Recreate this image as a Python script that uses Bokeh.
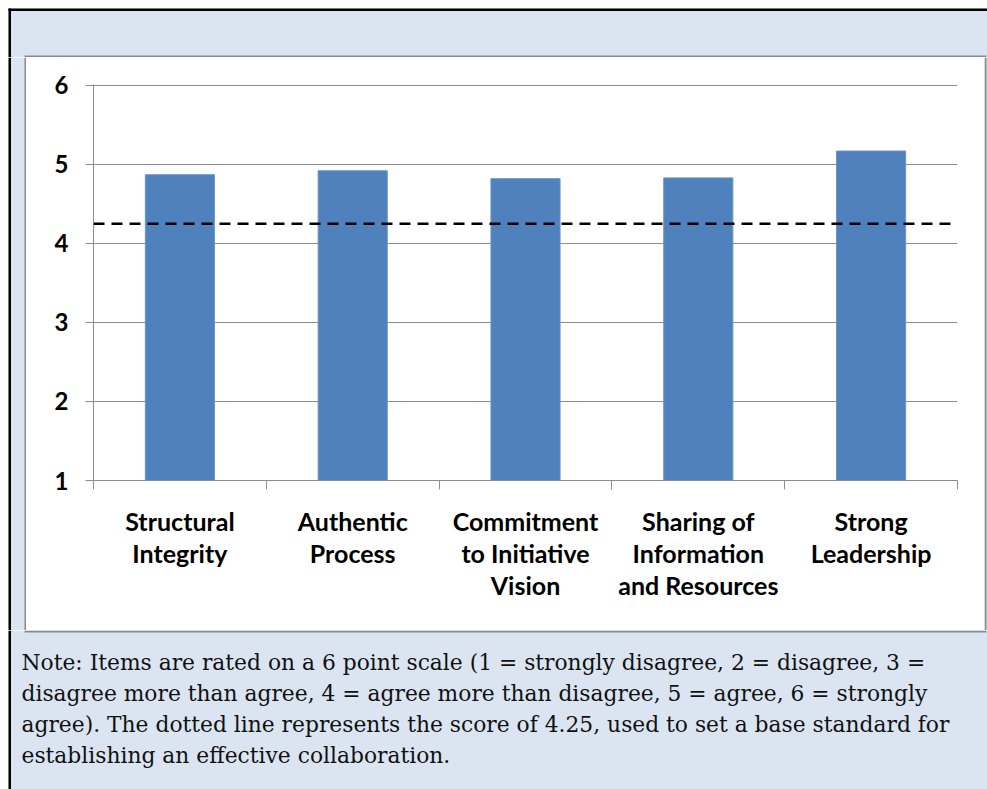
from bokeh.plotting import figure
from bokeh.layouts import column, row
from bokeh.models import FixedTicker, Label, Range1d, Span
from bokeh.embed import file_html
from bokeh.resources import INLINE

# --- data -------------------------------------------------------------
categories = [
    ["Structural", "Integrity"],
    ["Authentic", "Process"],
    ["Commitment", "to Initiative", "Vision"],
    ["Sharing of", "Information", "and Resources"],
    ["Strong", "Leadership"],
]
scores = [4.87, 4.92, 4.82, 4.83, 5.17]
baseline_score = 4.25
y_ticks = [1, 2, 3, 4, 5, 6]
note_lines = [
    "Note: Items are rated on a 6 point scale (1 = strongly disagree, 2 = disagree, 3 =",
    "disagree more than agree, 4 = agree more than disagree, 5 = agree, 6 = strongly",
    "agree).  The dotted line represents the score of 4.25, used to set a base standard for",
    "establishing an effective collaboration.",
]

# --- page geometry (pixels, origin top-left) ----------------------------
W, H = 987, 789
BOX_L, BOX_R, BOX_T, BOX_B = 26, 984, 57, 630      # white chart panel
F_LEFT, F_RIGHT, F_TOP, F_BOTTOM = 93, 957, 84, 480  # plotting frame

BAR_COLOR = "#4f81bd"
GRID_COLOR = "#8c8c8c"
PANEL_BG = "#dbe5f1"
EDGE_GRAY = "#8a8a8a"
SANS = "Lato"
SERIF = "DejaVu Serif"


def strip(x0, x1, y0, y1):
    """A bare figure whose data space is the page's pixel space."""
    f = figure(width=x1 - x0, height=y1 - y0,
               x_range=Range1d(x0, x1), y_range=Range1d(y1, y0),
               output_backend="svg", toolbar_location=None,
               x_axis_type=None, y_axis_type=None, min_border=0,
               outline_line_color=None, frame_align=False,
               background_fill_color="white", border_fill_color="white")
    return f


def paint(f, x0, x1, y0, y1, color):
    f.quad(left=[x0], right=[x1], top=[y0], bottom=[y1],
           fill_color=color, line_color=None)


# frame pieces around the chart panel
top = strip(0, W, 0, BOX_T)
paint(top, 8, W, 8, BOX_T, PANEL_BG)
paint(top, 8, W, 8, 10.5, "black")
paint(top, 8, 10.5, 8, BOX_T, "black")
paint(top, BOX_L - 2, BOX_R + 2, BOX_T - 2, BOX_T, EDGE_GRAY)

left = strip(0, BOX_L, BOX_T, BOX_B)
paint(left, 8, BOX_L, BOX_T, BOX_B, PANEL_BG)
paint(left, 8, 10.5, BOX_T, BOX_B, "black")
paint(left, BOX_L - 2, BOX_L, BOX_T, BOX_B, EDGE_GRAY)

right = strip(BOX_R, W, BOX_T, BOX_B)
paint(right, BOX_R, W, BOX_T, BOX_B, PANEL_BG)
paint(right, BOX_R, BOX_R + 2, BOX_T, BOX_B, EDGE_GRAY)

note = strip(0, W, BOX_B, H)
paint(note, 8, W, BOX_B, H, PANEL_BG)
paint(note, 8, 10.5, BOX_B, H, "black")
paint(note, BOX_L - 2, BOX_R + 2, BOX_B, BOX_B + 2, EDGE_GRAY)

NOTE_Y0, NOTE_STEP = 662, 31
for j, txt in enumerate(note_lines):
    note.add_layout(Label(x=21, y=NOTE_Y0 + j * NOTE_STEP, text=txt,
                          text_align="left", text_baseline="alphabetic",
                          text_font=SERIF, text_font_size="21.8px",
                          text_color="#111111"))

# --- the bar chart ----------------------------------------------------
n = len(categories)
centers = [i + 0.5 for i in range(n)]
y_top = y_ticks[-1] + 0.012

p = figure(
    width=BOX_R - BOX_L, height=BOX_B - BOX_T,
    x_range=Range1d(0, n), y_range=Range1d(y_ticks[0], y_top),
    output_backend="svg", toolbar_location=None,
    min_border_left=F_LEFT - BOX_L, min_border_right=BOX_R - F_RIGHT,
    min_border_top=F_TOP - BOX_T, min_border_bottom=BOX_B - F_BOTTOM,
    border_fill_color="white", background_fill_color="white",
    outline_line_color=None, frame_align=False,
)

p.vbar(x=centers, top=scores, bottom=y_ticks[0], width=0.4,
       fill_color=BAR_COLOR, line_color="#6a93c6", line_width=1)

p.add_layout(Span(location=baseline_score, dimension="width",
                  line_color="black", line_width=2.5, line_dash="11 7"))

p.xgrid.visible = False
p.ygrid.ticker = FixedTicker(ticks=y_ticks)
p.ygrid.grid_line_color = GRID_COLOR
p.ygrid.grid_line_width = 1

ya = p.yaxis[0]
ya.ticker = FixedTicker(ticks=y_ticks)
ya.axis_line_color = GRID_COLOR
ya.major_tick_line_color = GRID_COLOR
ya.major_tick_out = 8
ya.major_tick_in = 0
ya.minor_tick_line_color = None
ya.major_label_text_font = SANS
ya.major_label_text_font_style = "bold"
ya.major_label_text_font_size = "24px"
ya.major_label_text_color = "black"
ya.major_label_standoff = 17

# x axis: names centred under each bar, tick marks on category boundaries
xa = p.xaxis[0]
xa.ticker = FixedTicker(ticks=centers, minor_ticks=list(range(n + 1)))
xa.major_label_overrides = {c: "\n".join(lines) for c, lines in zip(centers, categories)}
xa.axis_line_color = GRID_COLOR
xa.major_tick_line_color = None
xa.major_tick_out = 0
xa.major_tick_in = 0
xa.minor_tick_line_color = GRID_COLOR
xa.minor_tick_out = 9
xa.minor_tick_in = 0
xa.major_label_standoff = 16
xa.major_label_text_font = SANS
xa.major_label_text_font_style = "bold"
xa.major_label_text_font_size = "25px"
xa.major_label_text_color = "black"
xa.major_label_text_line_height = 1.08

layout = column(
    top,
    row(left, p, right),
    note,
)

open("out.html", "w").write(file_html(layout, INLINE))
